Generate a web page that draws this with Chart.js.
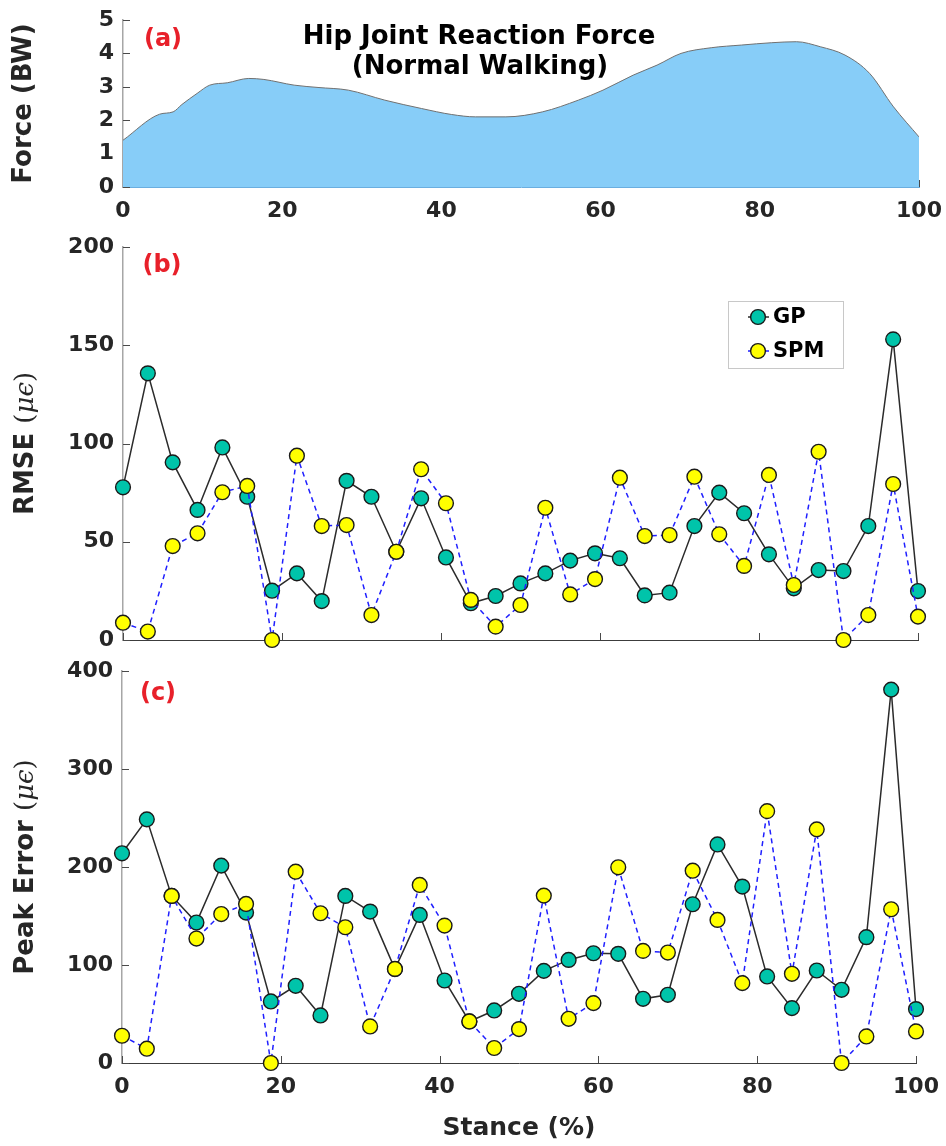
<!DOCTYPE html>
<html>
<head>
<meta charset="utf-8">
<script src="https://cdn.jsdelivr.net/npm/chart.js@4.4.0/dist/chart.umd.min.js"></script>
<style>
	body { margin: 0; background: #fff; }
	.panel { position: absolute; left: 0; width: 946px; }
</style>
</head>
<body>
<div class="panel" style="top:0;height:232px"><canvas id="chart_a"></canvas></div>
<div class="panel" style="top:232px;height:423px"><canvas id="chart_b"></canvas></div>
<div class="panel" style="top:655px;height:491px"><canvas id="chart_c"></canvas></div>
<script>
// (a) hip joint reaction force
const FORCE_X = [0, 4.6, 6.3, 7.4, 9.3, 10.9, 13.1, 15.8, 17.7, 21.5, 24.5, 28.3, 32.9, 37.5, 41.3, 44.3, 48.1, 52.7, 57.2, 60.3, 64.1, 67.1, 70.1, 73.9, 77.7, 81.5, 84.6, 87.6, 90.7, 93.8, 96.8, 100];
const FORCE_Y = [1.4, 2.18, 2.25, 2.47, 2.8, 3.05, 3.12, 3.25, 3.22, 3.05, 2.98, 2.9, 2.6, 2.35, 2.17, 2.1, 2.1, 2.25, 2.6, 2.9, 3.35, 3.65, 4.0, 4.17, 4.25, 4.32, 4.35, 4.2, 3.95, 3.4, 2.4, 1.5];

// stance positions of the strain gauges
const STANCE = [0, 3.125, 6.25, 9.375, 12.5, 15.625, 18.75, 21.875, 25, 28.125, 31.25, 34.375, 37.5, 40.625, 43.75, 46.875, 50, 53.125, 56.25, 59.375, 62.5, 65.625, 68.75, 71.875, 75, 78.125, 81.25, 84.375, 87.5, 90.625, 93.75, 96.875, 100];

// (b) RMSE
const RMSE_GP = [77.7, 135.7, 90.4, 66.2, 98, 72.9, 25.1, 33.9, 19.8, 81, 72.9, 44.9, 72.1, 42, 18.7, 22.4, 28.8, 33.9, 40.4, 44.1, 41.6, 22.7, 24.1, 58, 75, 64.5, 43.6, 26.3, 35.6, 35.1, 58, 153, 24.9];
const RMSE_SPM = [8.8, 4.3, 47.8, 54.3, 75.2, 78.4, 0, 93.8, 58, 58.5, 12.7, 44.9, 86.9, 69.6, 20.4, 6.8, 17.8, 67.3, 23.2, 31, 82.6, 52.9, 53.4, 83.1, 53.8, 37.7, 84, 28, 95.8, 0, 12.7, 79.4, 11.9];

// (c) peak error
const PEAK_GP = [214, 248.6, 170.5, 143.3, 201.4, 153.5, 62.8, 78.8, 48.5, 170.5, 154.5, 95.8, 151.1, 84.2, 42.4, 53.6, 70.6, 94, 105.2, 112, 111.4, 65.5, 69.6, 162, 223, 180, 88.3, 56, 94.4, 74.7, 128.4, 381, 55];
const PEAK_SPM = [27.8, 14.6, 170.5, 127, 152, 162.3, 0, 195.2, 152.8, 138.5, 37.3, 96, 181.7, 140.2, 42.4, 15.3, 34.6, 170.8, 45.1, 61.1, 199.7, 114.4, 112.7, 196.2, 146, 81.5, 257, 91, 238.4, 0, 27.1, 156.9, 32.2];

const TEXT_COLOR = '#262626';
const FONT = 'DejaVu Sans';
const TICK_FONT = { family: FONT, size: 22, weight: 'bold' };

Chart.defaults.font.family = FONT;
Chart.defaults.animation = false;

function pts(xs, ys) {
	return xs.map((x, i) => ({ x: x, y: ys[i] }));
}

// matlab style ticks pointing into the axes
const inward_ticks = {
	id: 'inward_ticks',
	beforeDatasetsDraw(chart) {
		const ctx = chart.ctx, area = chart.chartArea;
		const sx = chart.scales.x, sy = chart.scales.y;
		ctx.save();
		ctx.lineWidth = 1;
		ctx.strokeStyle = '#4a4a4a';
		sx.ticks.forEach((t) => {
			let px = Math.round(sx.getPixelForValue(t.value)) + 0.5;
			ctx.beginPath(); ctx.moveTo(px, area.bottom); ctx.lineTo(px, area.bottom - 7); ctx.stroke();
		});
		sy.ticks.forEach((t) => {
			let py = Math.round(sy.getPixelForValue(t.value)) + 0.5;
			ctx.beginPath(); ctx.moveTo(area.left, py); ctx.lineTo(area.left + 7, py); ctx.stroke();
		});
		ctx.restore();
	}
};

// y label with bold words and an italic greek unit
const ylabel = {
	id: 'ylabel',
	afterDraw(chart, args, opts) {
		if (!opts.parts) return;
		const ctx = chart.ctx, area = chart.chartArea;
		ctx.save();
		let total = 0;
		opts.parts.forEach((p) => { ctx.font = p[1]; total += ctx.measureText(p[0]).width; });
		ctx.translate(opts.x, (area.top + area.bottom) / 2);
		ctx.rotate(-Math.PI / 2);
		ctx.fillStyle = TEXT_COLOR;
		ctx.textBaseline = 'middle';
		ctx.textAlign = 'left';
		let pos = -total / 2;
		opts.parts.forEach((p) => {
			ctx.font = p[1];
			ctx.fillText(p[0], pos, 0);
			pos += ctx.measureText(p[0]).width;
		});
		ctx.restore();
	}
};

// panel letters and the title of (a)
const panel_text = {
	id: 'panel_text',
	afterDraw(chart, args, opts) {
		if (!opts.items) return;
		const ctx = chart.ctx;
		ctx.save();
		ctx.textAlign = 'center';
		ctx.textBaseline = 'middle';
		opts.items.forEach((it) => {
			ctx.font = it.font;
			ctx.fillStyle = it.color;
			ctx.fillText(it.text, it.x, it.y);
		});
		ctx.restore();
	}
};

// boxed legend inside panel (b)
const legend_box = {
	id: 'legend_box',
	afterDatasetsDraw(chart, args, opts) {
		if (!opts.show) return;
		const ctx = chart.ctx;
		ctx.save();
		ctx.fillStyle = '#fff';
		ctx.strokeStyle = '#c8c8c8';
		ctx.lineWidth = 1;
		ctx.fillRect(opts.left, opts.top, opts.width, opts.height);
		ctx.strokeRect(opts.left + 0.5, opts.top + 0.5, opts.width, opts.height);
		opts.rows.forEach((row) => {
			let ds = chart.data.datasets[row.index];
			ctx.strokeStyle = ds.borderColor;
			ctx.lineWidth = ds.borderWidth;
			ctx.setLineDash(ds.borderDash || []);
			ctx.beginPath(); ctx.moveTo(opts.line_from, row.y); ctx.lineTo(opts.line_to, row.y); ctx.stroke();
			ctx.setLineDash([]);
			ctx.beginPath();
			ctx.arc(opts.marker_x, row.y, ds.pointRadius, 0, Math.PI * 2);
			ctx.fillStyle = ds.pointBackgroundColor;
			ctx.fill();
			ctx.lineWidth = ds.pointBorderWidth;
			ctx.strokeStyle = ds.pointBorderColor;
			ctx.stroke();
			ctx.fillStyle = '#000';
			ctx.font = 'bold 21px ' + FONT;
			ctx.textBaseline = 'middle';
			ctx.fillText(ds.label, opts.text_x, row.y + 1);
		});
		ctx.restore();
	}
};

Chart.register(inward_ticks, ylabel, panel_text, legend_box);

function x_axis(height, show_labels, title) {
	return {
		type: 'linear', min: 0, max: 100,
		ticks: { stepSize: 20, display: show_labels, color: TEXT_COLOR, font: TICK_FONT, padding: 11 },
		grid: { display: false, drawTicks: false },
		border: { display: true, color: '#3c3c3c', width: 1 },
		title: title ? { display: true, text: title, color: TEXT_COLOR, font: { family: FONT, size: 25, weight: 'bold' }, padding: { top: 0, bottom: 3 } } : { display: false },
		afterFit: (scale) => {
			scale.height = height;
			// keep the plot edges where the layout padding puts them
			scale.paddingLeft = 0;
			scale.paddingRight = 0;
		}
	};
}

function y_axis(max, step, width) {
	return {
		min: 0, max: max,
		ticks: { stepSize: step, color: TEXT_COLOR, font: TICK_FONT, padding: 9 },
		grid: { display: false, drawTicks: false },
		border: { display: true, color: '#a6a6a6', width: 1.5 },
		afterFit: (scale) => {
			scale.width = width;
			scale.paddingTop = 0;
			scale.paddingBottom = 0;
		}
	};
}

function gp_set(data) {
	return {
		label: 'GP', data: data, order: 2, clip: false,
		borderColor: '#2b2b2b', borderWidth: 1.5,
		pointRadius: 7.4, pointBackgroundColor: '#00c4aa', pointBorderColor: '#1a1a1a', pointBorderWidth: 1.4
	};
}

function spm_set(data) {
	return {
		label: 'SPM', data: data, order: 1, clip: false,
		borderColor: '#1f1fff', borderWidth: 1.5, borderDash: [5, 4],
		pointRadius: 7.4, pointBackgroundColor: '#ffff00', pointBorderColor: '#1a1a1a', pointBorderWidth: 1.4
	};
}

const BOLD_TITLE = 'bold 26px ' + FONT;
const GREEK = ['(', '26px "DejaVu Serif"'];
const GREEK_IT = 'italic 26px "DejaVu Serif"';

new Chart(document.getElementById('chart_a'), {
	type: 'line',
	data: {
		datasets: [{
			data: pts(FORCE_X, FORCE_Y),
			fill: 'origin',
			backgroundColor: '#87cdf8',
			borderColor: '#707070',
			borderWidth: 1,
			pointRadius: 0,
			cubicInterpolationMode: 'monotone'
		}]
	},
	options: {
		responsive: true,
		maintainAspectRatio: false,
		layout: { padding: { top: 20, right: 27, left: 0, bottom: 0 } },
		scales: {
			x: Object.assign(x_axis(45, true), { border: { display: true, color: '#6aaee0', width: 1 } }),
			y: y_axis(5, 1, 123)
		},
		plugins: {
			legend: { display: false },
			tooltip: { enabled: false },
			ylabel: { x: 24, parts: [['Force (BW)', BOLD_TITLE]] },
			panel_text: {
				items: [
					{ text: '(a)', x: 163, y: 40, font: 'bold 24px ' + FONT, color: '#e8202a' },
					{ text: 'Hip Joint Reaction Force', x: 479, y: 37, font: BOLD_TITLE, color: '#000' },
					{ text: '(Normal Walking)', x: 480, y: 67, font: BOLD_TITLE, color: '#000' }
				]
			}
		}
	}
});

new Chart(document.getElementById('chart_b'), {
	type: 'line',
	data: {
		datasets: [gp_set(pts(STANCE, RMSE_GP)), spm_set(pts(STANCE, RMSE_SPM))]
	},
	options: {
		responsive: true,
		maintainAspectRatio: false,
		layout: { padding: { top: 15, right: 28, left: 0, bottom: 0 } },
		scales: {
			x: x_axis(15, false),
			y: y_axis(200, 50, 123)
		},
		plugins: {
			legend: { display: false },
			tooltip: { enabled: false },
			ylabel: { x: 26, parts: [['RMSE ', BOLD_TITLE], GREEK, ['μϵ', GREEK_IT], [')', GREEK[1]]] },
			panel_text: { items: [{ text: '(b)', x: 162, y: 34, font: 'bold 24px ' + FONT, color: '#e8202a' }] },
			legend_box: {
				show: true, left: 728, top: 69, width: 115, height: 67,
				line_from: 748, line_to: 769, marker_x: 758, text_x: 773,
				rows: [{ index: 0, y: 85 }, { index: 1, y: 119 }]
			}
		}
	}
});

new Chart(document.getElementById('chart_c'), {
	type: 'line',
	data: {
		datasets: [gp_set(pts(STANCE, PEAK_GP)), spm_set(pts(STANCE, PEAK_SPM))]
	},
	options: {
		responsive: true,
		maintainAspectRatio: false,
		layout: { padding: { top: 16, right: 30, left: 0, bottom: 0 } },
		scales: {
			x: x_axis(83, true, 'Stance (%)'),
			y: y_axis(400, 100, 122)
		},
		plugins: {
			legend: { display: false },
			tooltip: { enabled: false },
			ylabel: { x: 26, parts: [['Peak Error ', BOLD_TITLE], GREEK, ['μϵ', GREEK_IT], [')', GREEK[1]]] },
			panel_text: { items: [{ text: '(c)', x: 158, y: 39, font: 'bold 24px ' + FONT, color: '#e8202a' }] }
		}
	}
});
</script>
</body>
</html>
